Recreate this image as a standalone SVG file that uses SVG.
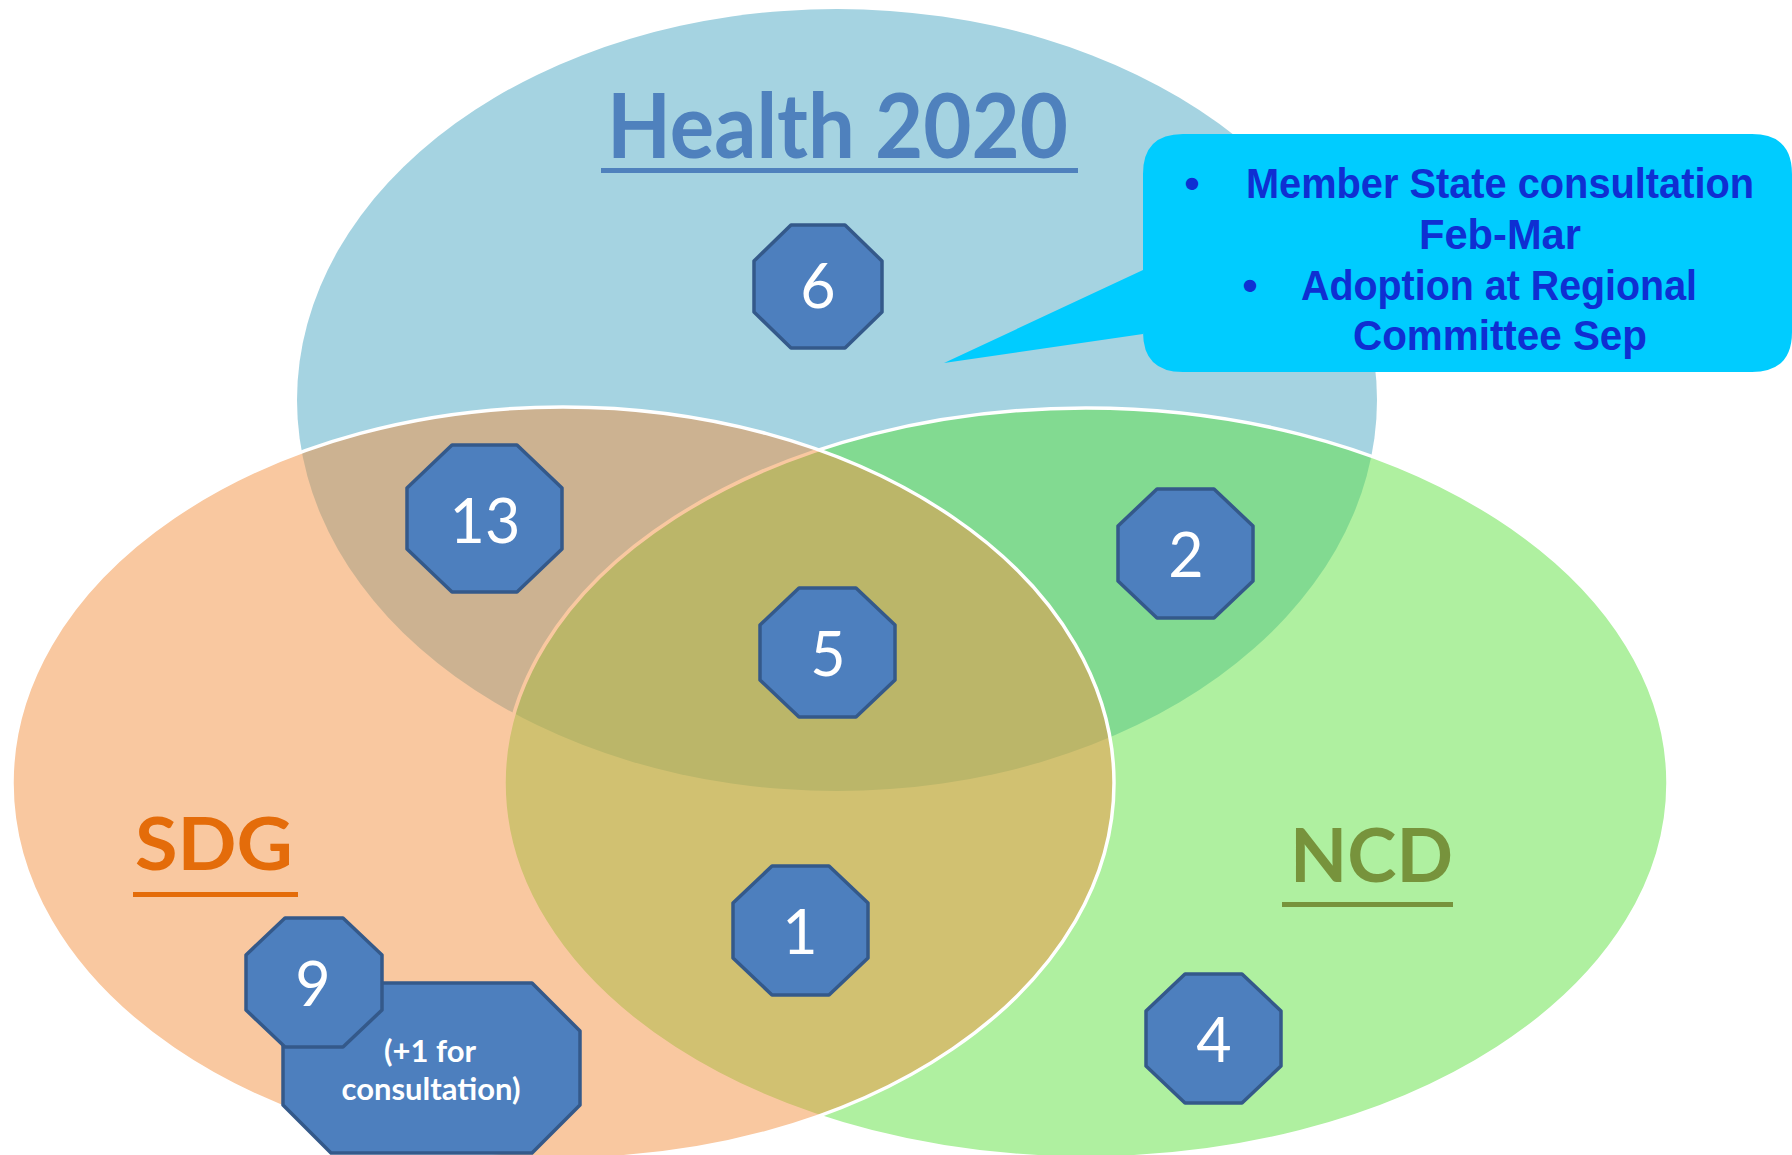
<svg xmlns="http://www.w3.org/2000/svg" width="1792" height="1155" viewBox="0 0 1792 1155">
<style>
.set{stroke:#ffffff;stroke-width:3.5}
.oct{fill:#4d7fbe;stroke:#34598a;stroke-width:3.5;stroke-linejoin:round}
.num{font-family:Lato,"Open Sans","Liberation Sans",sans-serif;font-size:61px;fill:#ffffff;text-anchor:middle}
.title{font-family:Lato,"Open Sans","Liberation Sans",sans-serif;font-weight:700}
.note{font-family:"Liberation Sans",Arial,sans-serif;font-size:43px;font-weight:700;fill:#0f2fd2;text-anchor:middle}
.small{font-family:Lato,"Open Sans","Liberation Sans",sans-serif;font-weight:700;font-size:31px;fill:#ffffff;text-anchor:middle}
</style>
<rect x="0" y="0" width="1792" height="1155" fill="#ffffff"/>
<g id="sets">
  <ellipse id="set-health" cx="837" cy="400" rx="540" ry="391" fill="#a5d3e1"/>
  <ellipse id="set-ncd" class="set" cx="1086" cy="783" rx="582" ry="375" fill="#5fe141" fill-opacity="0.5"/>
  <ellipse id="set-sdg" class="set" cx="563" cy="783" rx="551" ry="376" fill="#f39141" fill-opacity="0.5"/>
</g>
<g id="labels">
  <g id="label-health">
    <text class="title" x="607" y="158" font-size="90" fill="#4f81bd" textLength="461" lengthAdjust="spacingAndGlyphs">Health 2020</text>
    <rect x="601" y="168" width="477" height="5" fill="#4f81bd"/>
  </g>
  <g id="label-sdg">
    <text class="title" x="135" y="870" font-size="72" fill="#e46c0a" textLength="158" lengthAdjust="spacingAndGlyphs">SDG</text>
    <rect x="133" y="892" width="165" height="5" fill="#e46c0a"/>
  </g>
  <g id="label-ncd">
    <text class="title" x="1290" y="882" font-size="75" fill="#77933c" textLength="163" lengthAdjust="spacingAndGlyphs">NCD</text>
    <rect x="1282" y="902" width="171" height="5" fill="#77933c"/>
  </g>
</g>
<g id="connectors"></g>
<g id="node-6">
  <polygon class="oct" points="791,225 845,225 882,261 882,312 845,348 791,348 754,312 754,261"/>
  <text class="num" x="818" y="308" font-size="55">6</text>
</g>
<g id="node-13">
  <polygon class="oct" points="452,445 517,445 562,488 562,549 517,592 452,592 407,549 407,488"/>
  <text class="num" x="485" y="543">13</text>
</g>
<g id="node-2">
  <polygon class="oct" points="1157,489 1214,489 1253,526 1253,581 1214,618 1157,618 1118,581 1118,526"/>
  <text class="num" x="1186" y="577">2</text>
</g>
<g id="node-5">
  <polygon class="oct" points="799,588 856,588 895,625 895,680 856,717 799,717 760,680 760,625"/>
  <text class="num" x="828" y="676">5</text>
</g>
<g id="node-1">
  <polygon class="oct" points="772,866 829,866 868,903 868,958 829,995 772,995 733,958 733,903"/>
  <text class="num" x="800" y="954">1</text>
</g>
<g id="node-4">
  <polygon class="oct" points="1185,974 1242,974 1281,1011 1281,1066 1242,1103 1185,1103 1146,1066 1146,1011"/>
  <text class="num" x="1214" y="1062">4</text>
</g>
<g id="node-consultation">
  <polygon class="oct" points="331,983 532,983 580,1031 580,1105 532,1153 331,1153 283,1105 283,1031"/>
  <text class="small" x="430" y="1062">(+1 for</text>
  <text class="small" x="431" y="1100">consultation)</text>
</g>
<g id="node-9">
  <polygon class="oct" points="285,918 343,918 382,955 382,1010 343,1047 285,1047 246,1010 246,955"/>
  <text class="num" x="313" y="1006">9</text>
</g>
<g id="callout">
  <path d="M1183,134 H1752 Q1792,134 1792,174 V332 Q1792,372 1752,372 H1183 Q1143,372 1143,332 V334 L944,363 L1143,270 V174 Q1143,134 1183,134 Z" fill="#00ccff"/>
  <text class="note" x="1192" y="198">•</text>
  <text class="note" x="1500" y="198" textLength="508" lengthAdjust="spacingAndGlyphs">Member State consultation</text>
  <text class="note" x="1500" y="249" textLength="162" lengthAdjust="spacingAndGlyphs">Feb-Mar</text>
  <text class="note" x="1250" y="300">•</text>
  <text class="note" x="1499" y="300" textLength="396" lengthAdjust="spacingAndGlyphs">Adoption at Regional</text>
  <text class="note" x="1500" y="350" textLength="294" lengthAdjust="spacingAndGlyphs">Committee Sep</text>
</g>
</svg>
